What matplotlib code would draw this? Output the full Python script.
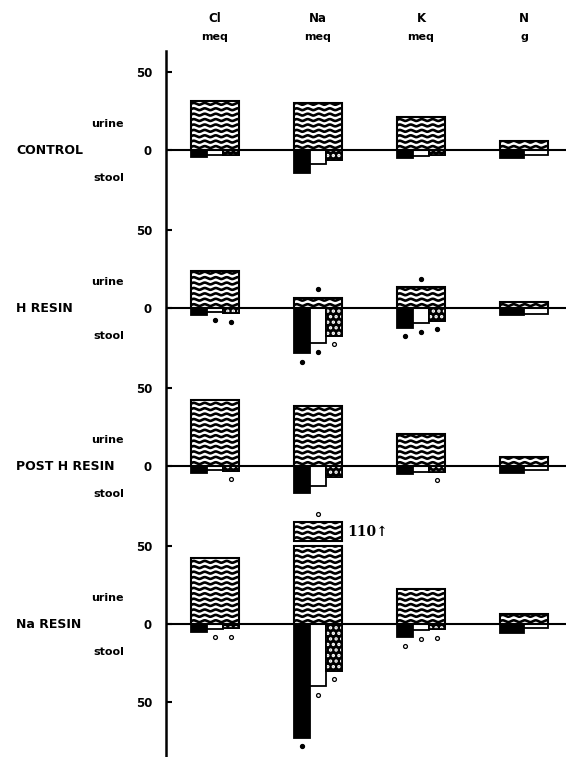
import numpy as np
import matplotlib
matplotlib.use("Agg")
import matplotlib.pyplot as plt

# ---------------- data ----------------
panels = ["CONTROL", "H RESIN", "POST H RESIN", "Na RESIN"]
elements = ["Cl", "Na", "K", "N"]
units = ["meq", "meq", "meq", "g"]

# urine output (positive)
urine_control = [31.5, 30.2, 21.2, 5.8]
urine_h_resin = [23.5, 6.5, 13.3, 3.6]
urine_post_h = [42.0, 38.6, 20.6, 6.0]
urine_na_resin = [42.0, 110.0, 22.3, 6.5]

# stool output (black, white, dotted) per element
stool_control = [[4.5, 3.2, 3.0], [14.5, 9.0, 6.5], [5.0, 3.7, 3.5], [5.0, 3.0]]
stool_h_resin = [[4.3, 2.2, 3.2], [29.0, 22.6, 17.7], [12.5, 9.7, 8.0], [4.3, 3.5]]
stool_post_h = [[4.5, 2.5, 3.0], [17.0, 13.0, 7.0], [5.0, 4.0, 3.5], [4.5, 2.5]]
stool_na_resin = [[5.0, 2.8, 2.5], [72.5, 39.5, 29.7], [8.5, 3.8, 3.2], [5.5, 2.5]]

# significance marks per element: [urine, black, white, dotted]; 0 none, 1 filled, 2 open
sig_control = [[0, 0, 0, 0], [0, 0, 0, 0], [0, 0, 0, 0], [0, 0, 0]]
sig_h_resin = [[0, 0, 1, 1], [1, 1, 1, 2], [1, 1, 1, 1], [0, 0, 0]]
sig_post_h = [[0, 0, 0, 2], [0, 0, 0, 0], [0, 0, 0, 2], [0, 0, 0]]
sig_na_resin = [[0, 0, 2, 2], [2, 1, 2, 2], [0, 2, 2, 2], [0, 0, 0]]

urine_all = [urine_control, urine_h_resin, urine_post_h, urine_na_resin]
stool_all = [stool_control, stool_h_resin, stool_post_h, stool_na_resin]
sig_all = [sig_control, sig_h_resin, sig_post_h, sig_na_resin]

# ---------------- layout ----------------
W, H, DPI = 566, 757, 100
PX_X = 103.0          # px per element group
X0_PX = 215.0         # px of first group centre
S = 1.565             # px per unit
Y0_PX = 150.0         # px of first panel zero
GAP = 101.0           # panel spacing in units
CAP = 50.0            # display cap for broken bar
BW = 48.0 / PX_X
AXIS_X = (166 - X0_PX) / PX_X
DOT_GAP = 5.5

plt.rcParams["hatch.linewidth"] = 1.6
fig = plt.figure(figsize=(W / DPI, H / DPI), dpi=DPI)
ax = fig.add_axes([0, 0, 1, 1])
ax.set_xlim(-X0_PX / PX_X, (W - X0_PX) / PX_X)
ax.set_ylim(-(H - Y0_PX) / S, Y0_PX / S)


def px_x(p):
    return (p - X0_PX) / PX_X


def px_y(p):
    return (Y0_PX - p) / S


def wave_fill(patch, x0, w, y0, h):
    spacing = 5.4 / S
    amp = 0.9 / S
    period = 11.0 / PX_X
    xs = np.linspace(x0, x0 + w, 240)
    y = y0 + spacing * 0.55
    while y < y0 + h + amp:
        ys = y + amp * np.sin(2 * np.pi * (xs - x0) / period)
        ln, = ax.plot(xs, ys, color="black", lw=1.9, zorder=2.5,
                      solid_capstyle="butt")
        ln.set_clip_path(patch)
        y += spacing


def mark(x, y, kind):
    if kind == 1:
        ax.plot(x, y, "o", ms=2.8, color="black", zorder=5)
    elif kind == 2:
        ax.plot(x, y, "o", ms=2.8, mfc="white", mec="black", mew=0.9, zorder=5)


for i, panel in enumerate(panels):
    off = -i * GAP
    for j in range(len(elements)):
        u = urine_all[i][j]
        uh = min(u, CAP)
        b = ax.bar(j, uh, width=BW, bottom=off, facecolor="white",
                   edgecolor="black", linewidth=1.5, zorder=2)[0]
        wave_fill(b, j - BW / 2, BW, off, uh)
        top = off + uh
        if u > CAP:
            pb = off + CAP + 3.0
            ph = 12.0
            b2 = ax.bar(j, ph, width=BW, bottom=pb, facecolor="white",
                        edgecolor="black", linewidth=1.5, zorder=2)[0]
            wave_fill(b2, j - BW / 2, BW, pb, ph)
            top = pb + ph
            ax.text(j + BW / 2 + 5 / PX_X, pb + ph / 2, "110\u2191",
                    fontsize=10, fontweight="bold", family="DejaVu Serif",
                    ha="left", va="center")
        sig = sig_all[i][j]
        mark(j, top + DOT_GAP, sig[0])

        vals = stool_all[i][j]
        n = len(vals)
        sw = BW / n
        for k, v in enumerate(vals):
            xk = j - BW / 2 + sw * (k + 0.5)
            if k == 0:
                ax.bar(xk, -v, width=sw, bottom=off, facecolor="black",
                       edgecolor="black", linewidth=1.3, zorder=3)
            elif k == 1:
                ax.bar(xk, -v, width=sw, bottom=off, facecolor="white",
                       edgecolor="black", linewidth=1.3, zorder=3)
            else:
                ax.bar(xk, -v, width=sw, bottom=off, facecolor="black",
                       edgecolor="black", linewidth=1.3, zorder=3)
                ax.bar(xk, -v, width=sw, bottom=off, fill=False,
                       edgecolor="white", hatch="...", linewidth=0, zorder=3.1)
                ax.bar(xk, -v, width=sw, bottom=off, fill=False,
                       edgecolor="black", linewidth=1.3, zorder=3.2)
            mark(xk, off - v - DOT_GAP, sig[k + 1])

    # zero line
    ax.hlines(off, AXIS_X, ax.get_xlim()[1], color="black", lw=1.5, zorder=4)
    # row labels
    ax.text(px_x(16), off, panel, fontsize=9, fontweight="bold",
            ha="left", va="center")
    ax.text(px_x(124), off + 16.6, "urine", fontsize=8, fontweight="bold",
            ha="right", va="center")
    ax.text(px_x(124), off - 17.9, "stool", fontsize=8, fontweight="bold",
            ha="right", va="center")

# column headers
for j, (el, un) in enumerate(zip(elements, units)):
    ax.text(j, px_y(18), el, fontsize=8.5, fontweight="bold",
            ha="center", va="center")
    ax.text(j, px_y(37), un, fontsize=8, fontweight="bold",
            ha="center", va="center")

# axis
for s in ["top", "right", "bottom"]:
    ax.spines[s].set_visible(False)
ax.spines["left"].set_position(("data", AXIS_X))
ax.spines["left"].set_linewidth(1.8)
ax.spines["left"].set_bounds(ax.get_ylim()[0], px_y(51))
ticks = []
labels = []
for i in range(len(panels)):
    off = -i * GAP
    ticks += [off + 50, off]
    labels += ["50", "0"]
ticks.append(-(len(panels) - 1) * GAP - 50)
labels.append("50")
ax.set_yticks(ticks, labels)
ax.tick_params(axis="y", direction="in", length=4, width=1.5, pad=10,
               labelsize=8.5)
for t in ax.get_yticklabels():
    t.set_fontweight("bold")
ax.set_xticks([])

fig.savefig("out.png", dpi=DPI)
